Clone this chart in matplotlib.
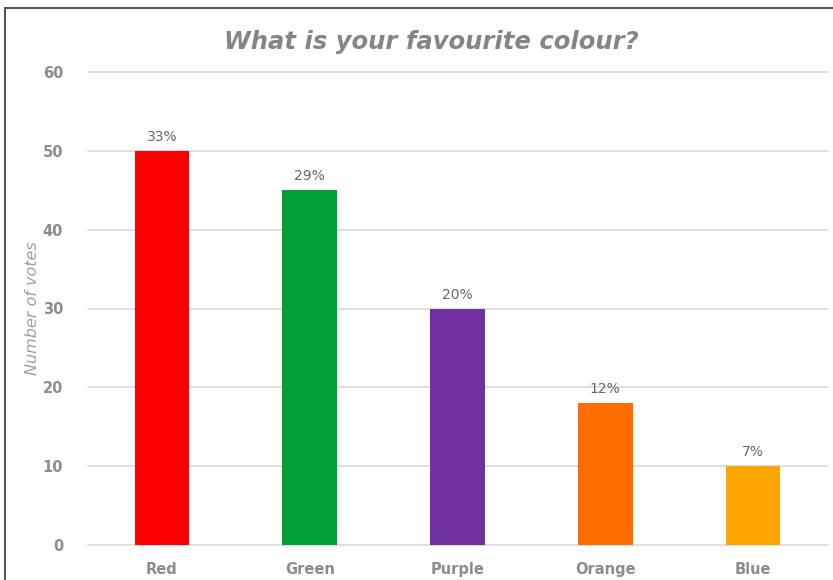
import matplotlib
matplotlib.use("Agg")
import matplotlib.pyplot as plt
from matplotlib.patches import Rectangle

categories = ["Red", "Green", "Purple", "Orange", "Blue"]
votes = [50, 45, 30, 18, 10]
pct_labels = ["33%", "29%", "20%", "12%", "7%"]
bar_colors = ["#ff0000", "#00a032", "#7030a0", "#ff6d00", "#ffa500"]
yticks = [0, 10, 20, 30, 40, 50, 60]

plt.rcParams['font.family'] = ['DejaVu Sans']

W, H = 833, 580
fig = plt.figure(figsize=(W / 100, H / 100), dpi=100)
ax = fig.add_axes([88 / W, 35 / H, 739 / W, 473 / H])

x = list(range(len(categories)))
ax.bar(x, votes, width=0.37, color=bar_colors, zorder=3)
ax.set_xlim(-0.5, len(categories) - 0.5)
ax.set_ylim(0, 60)
ax.set_yticks(yticks)
ax.set_xticks(x)
ax.set_xticklabels(categories)
ax.grid(axis='y', color='#d9d9d9', linewidth=1.2, zorder=0)
for gl in ax.get_ygridlines():
    gl.set_clip_on(False)
for s in ax.spines.values():
    s.set_visible(False)
ax.tick_params(axis='both', length=0, colors='#8c8c8c', labelsize=10.5)
ax.tick_params(axis='y', pad=18)
ax.tick_params(axis='x', pad=12)
for lab in ax.get_xticklabels() + ax.get_yticklabels():
    lab.set_fontweight('bold')
    lab.set_color('#8c8c8c')

for xi, v, p in zip(x, votes, pct_labels):
    ax.annotate(p, (xi, v), xytext=(0, 5), textcoords='offset points',
                ha='center', va='bottom', fontsize=10, color='#666666')

ax.set_ylabel("Number of votes", fontsize=11.5, color='#a0a0a0', style='italic')
ax.yaxis.set_label_coords(-48 / 739, 0.5)

fig.text(431 / W, 1 - 42 / H, "What is your favourite colour?", ha='center', va='center',
         fontsize=17.5, fontweight='bold', style='italic', color='#858585')

# outer chart border (cropped at right and bottom)
fig.patches.append(Rectangle((4.5 / W, -0.1), 1.2, 1 - 8 / H + 0.1, transform=fig.transFigure,
                             fill=False, edgecolor='#555555', linewidth=1.5, figure=fig))

fig.savefig("out.png", dpi=100)
